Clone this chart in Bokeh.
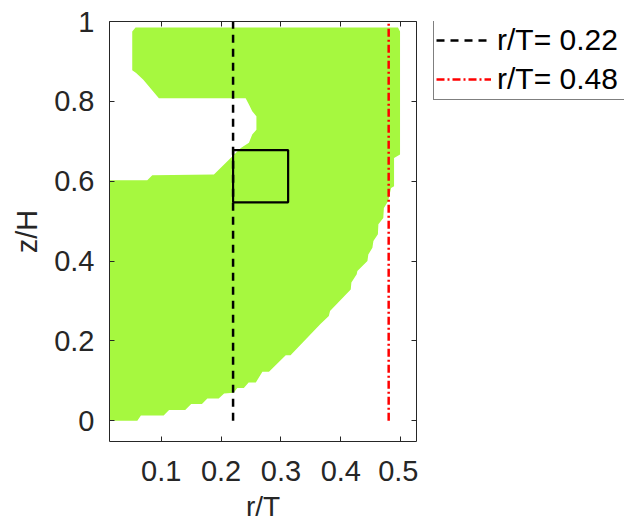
from bokeh.plotting import figure
from bokeh.layouts import row
from bokeh.models import (Range1d, FixedTicker, LinearAxis, Legend, LegendItem)
from bokeh.embed import file_html
from bokeh.resources import INLINE

# Outline of the shaded region (r/T, z/H), traced clockwise from the bottom-left corner
r_edge = [0.0135, 0.060, 0.066, 0.104, 0.113, 0.140, 0.150, 0.168, 0.177, 0.196,
          0.205, 0.221, 0.227, 0.238, 0.246, 0.258, 0.269, 0.280, 0.308, 0.316,
          0.366, 0.380, 0.382, 0.4166, 0.4177, 0.4266, 0.4277, 0.4445, 0.446, 0.4528,
          0.4545, 0.462, 0.4628, 0.471, 0.472, 0.479, 0.484, 0.489, 0.489, 0.499,
          0.499, 0.4956, 0.057, 0.0515, 0.0515, 0.058, 0.070, 0.096, 0.241, 0.2465,
          0.252, 0.259, 0.259, 0.252, 0.2465, 0.233, 0.188, 0.085, 0.0766, 0.0135]
z_edge = [0.0, 0.0, 0.0134, 0.0134, 0.0267, 0.0267, 0.0417, 0.0417, 0.056, 0.056,
          0.068, 0.070, 0.082, 0.082, 0.096, 0.096, 0.123, 0.123, 0.164, 0.164,
          0.242, 0.2625, 0.275, 0.329, 0.346, 0.367, 0.375, 0.400, 0.4167, 0.433,
          0.450, 0.467, 0.492, 0.508, 0.533, 0.550, 0.583, 0.5875, 0.658, 0.667,
          0.975, 0.985, 0.985, 0.975, 0.878, 0.871, 0.854, 0.808, 0.808, 0.792,
          0.775, 0.7625, 0.729, 0.717, 0.696, 0.683, 0.617, 0.615, 0.6025, 0.6025]

# Highlighted window
box_r = [0.22, 0.312]
box_z = [0.547, 0.678]

# Radial positions of the two profile lines
line_r = [0.22, 0.48]
line_z = [0.0, 1.0]
line_labels = ["r/T= 0.22", "r/T= 0.48"]

x_ticks = [0.1, 0.2, 0.3, 0.4, 0.5]
x_tick_labels = ["0.1", "0.2", "0.3", "0.4", "0.5"]
y_ticks = [0, 0.2, 0.4, 0.6, 0.8, 1]
y_tick_labels = ["0", "0.2", "0.4", "0.6", "0.8", "1"]

FONT = "Liberation Sans"
AX = "#262626"
GREEN = "#a6f83f"

LINE_STYLES = [dict(line_color="black", line_width=2.5, line_dash="8 6"),
               dict(line_color="red", line_width=2.5, line_dash="8 3 2 3")]

# ---- main plot -------------------------------------------------------------
p = figure(width=418, height=524, output_backend="svg", toolbar_location=None,
           x_range=Range1d(0.0135, 0.5265), y_range=Range1d(-0.052, 1.0),
           x_axis_location=None, y_axis_location=None,
           min_border_left=109, min_border_right=2,
           min_border_top=21, min_border_bottom=83)
p.grid.visible = False
p.outline_line_color = None
p.background_fill_color = "white"
p.border_fill_color = "white"

p.patch(r_edge, z_edge, fill_color=GREEN, line_color=None)

p.quad(left=[box_r[0]], right=[box_r[1]], bottom=[box_z[0]], top=[box_z[1]],
       fill_color=None, line_color="black", line_width=2.2)

for r, style in zip(line_r, LINE_STYLES):
    p.line([r, r], line_z, **style)


def style_axis(ax, ticks, labels, show_labels, label_size="29px"):
    ax.ticker = FixedTicker(ticks=ticks)
    ax.major_label_overrides = dict(zip(ticks, labels))
    ax.axis_line_color = AX
    ax.axis_line_width = 1
    ax.major_tick_line_color = AX
    ax.major_tick_in = 5
    ax.major_tick_out = 0
    ax.minor_tick_line_color = None
    ax.major_label_text_font = FONT
    ax.major_label_text_color = AX
    ax.axis_label_text_font = FONT
    ax.axis_label_text_color = AX
    ax.axis_label_text_font_style = "normal"
    if show_labels:
        ax.major_label_text_font_size = "29px"
        ax.axis_label_text_font_size = label_size
    else:
        ax.major_label_text_font_size = "0px"
        ax.major_label_standoff = 0


xb = LinearAxis(axis_label="r/T")
style_axis(xb, x_ticks, x_tick_labels, True, label_size="28px")
xb.major_label_standoff = 19
xb.axis_label_standoff = 7
p.add_layout(xb, "below")

yl = LinearAxis(axis_label="z/H")
style_axis(yl, y_ticks, y_tick_labels, True)
yl.major_label_standoff = 15
yl.axis_label_standoff = 8
p.add_layout(yl, "left")

xt = LinearAxis()
style_axis(xt, x_ticks, x_tick_labels, False)
p.add_layout(xt, "above")

yr = LinearAxis()
style_axis(yr, y_ticks, y_tick_labels, False)
p.add_layout(yr, "right")

# ---- legend panel to the right of the axes ---------------------------------
# (its frame is aligned with the main frame by the row layout)
lg = figure(width=206, height=524, output_backend="svg", toolbar_location=None,
            x_range=Range1d(0, 1), y_range=Range1d(0, 1),
            x_axis_location=None, y_axis_location=None, min_border=0)
lg.grid.visible = False
lg.outline_line_color = None
lg.background_fill_color = "white"
lg.border_fill_color = "white"

items = []
for r, style, label in zip(line_r, LINE_STYLES, line_labels):
    rr = lg.line([r, r], line_z, visible=False, **style)
    items.append(LegendItem(label=label, renderers=[rr]))

legend = Legend(items=items, location=(15, 341))
legend.label_text_font = FONT
legend.label_text_font_size = "30px"
legend.label_text_color = "black"
legend.border_line_color = "black"
legend.border_line_width = 1
legend.background_fill_color = "white"
legend.background_fill_alpha = 1
legend.glyph_width = 55
legend.glyph_height = 36
legend.label_height = 36
legend.label_width = 130
legend.label_standoff = 6
legend.padding = 2
legend.spacing = 3
legend.margin = 0
lg.add_layout(legend, "center")

layout = row(p, lg, spacing=0)

open("out.html", "w").write(file_html(layout, INLINE))
